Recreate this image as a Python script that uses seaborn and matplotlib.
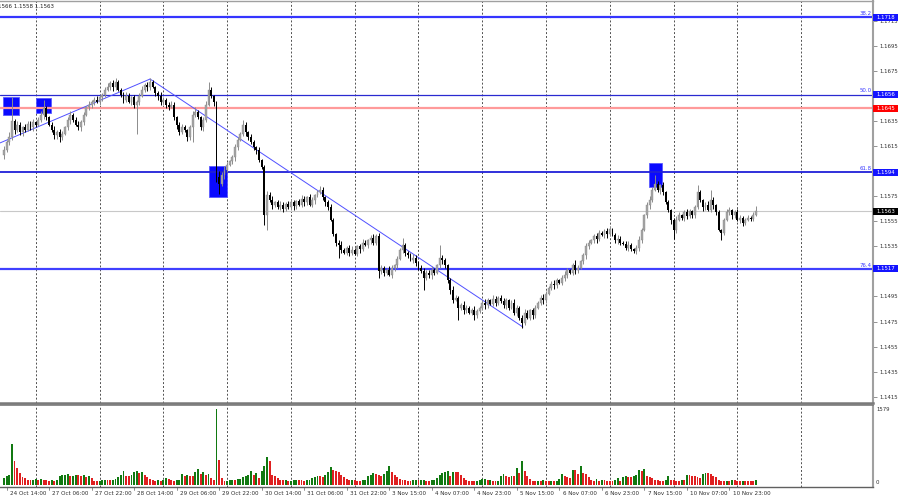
import numpy as np
import pandas as pd
import matplotlib
matplotlib.use("Agg")
import matplotlib.pyplot as plt
import matplotlib.transforms as mtransforms
from matplotlib.patches import Rectangle
import seaborn as sns

# ---------------- data (prices in pips above 1.1000) ----------------
base_price = 1.1
pip = 0.0001
first_open = 608

closes = [
    612, 618, 622, 635, 628, 632, 626, 630, 628, 633, 630, 634, 632, 636, 640, 645, 638, 632, 628, 624,
    626, 622, 625, 630, 636, 640, 636, 632, 630, 634, 640, 646, 648, 650, 652, 650, 654, 656, 660, 662,
    665, 662, 666, 660, 656, 652, 655, 650, 654, 648, 650, 655, 660, 664, 662, 666, 662, 657, 655, 650,
    652, 648, 646, 648, 638, 632, 626, 630, 628, 622, 630, 640, 642, 638, 630, 636, 648, 660, 655, 650,
    590, 585, 592, 596, 600, 603, 606, 614, 620, 625, 632, 626, 622, 618, 614, 612, 604, 598, 560, 576,
    572, 568, 570, 566, 568, 565, 569, 566, 570, 567, 571, 568, 573, 570, 574, 568, 572, 576, 578, 580,
    574, 570, 566, 556, 545, 538, 536, 532, 530, 534, 530, 532, 529, 535, 533, 538, 536, 540, 542, 538,
    543, 515, 518, 514, 516, 512, 518, 520, 525, 532, 536, 530, 528, 524, 526, 522, 518, 515, 510, 514,
    512, 516, 514, 520, 526, 524, 520, 508, 500, 492, 494, 486, 488, 484, 486, 482, 484, 480, 483, 486,
    490, 488, 492, 489, 493, 490, 494, 491, 488, 492, 486, 490, 482, 486, 478, 474, 482, 478, 484, 480,
    486, 490, 494, 492, 497, 502, 505, 504, 508, 506, 510, 512, 516, 514, 520, 516, 518, 523, 528, 535,
    538, 540, 543, 541, 546, 544, 547, 545, 549, 544, 540, 541, 538, 537, 534, 536, 533, 531, 534, 540,
    548, 560, 568, 572, 580, 585, 580, 584, 578, 570, 564, 556, 548, 556, 560, 558, 562, 559, 563, 560,
    566, 578, 572, 566, 568, 564, 572, 568, 562, 548, 546, 556, 562, 564, 560, 562, 556, 558, 554, 556,
    558, 557, 560, 563,
]

wick_up = [
    3, 2, 4, 19, 2, 3, 2, 1, 3, 2, 2, 3, 1, 2, 3, 7, 2, 1, 2, 3,
    2, 3, 2, 1, 2, 3, 1, 2, 3, 2, 2, 1, 3, 2, 2, 3, 2, 1, 2, 3,
    2, 3, 3, 2, 1, 2, 3, 2, 1, 2, 2, 2, 3, 1, 2, 3, 2, 1, 2, 3,
    2, 1, 2, 3, 2, 1, 2, 3, 2, 1, 2, 3, 4, 2, 1, 2, 3, 6, 2, 1,
    1, 5, 2, 3, 2, 1, 2, 3, 2, 1, 4, 2, 1, 3, 2, 1, 2, 1, 2, 3,
    2, 3, 1, 2, 3, 2, 1, 2, 3, 2, 1, 2, 3, 2, 1, 3, 2, 1, 2, 3,
    2, 1, 2, 3, 2, 1, 2, 3, 2, 1, 2, 3, 2, 1, 2, 3, 2, 1, 2, 3,
    2, 3, 2, 1, 2, 3, 2, 1, 2, 2, 6, 2, 1, 2, 3, 2, 1, 2, 3, 2,
    2, 3, 2, 1, 10, 2, 2, 1, 2, 3, 2, 1, 2, 3, 2, 1, 2, 3, 2, 1,
    2, 3, 2, 1, 3, 2, 1, 2, 3, 2, 1, 2, 3, 2, 1, 2, 3, 2, 1, 2,
    2, 1, 2, 3, 2, 1, 2, 3, 2, 1, 2, 3, 2, 1, 2, 4, 2, 1, 2, 3,
    2, 1, 2, 3, 2, 1, 2, 3, 2, 1, 2, 3, 2, 1, 2, 3, 2, 1, 2, 3,
    2, 1, 2, 3, 2, 7, 2, 1, 2, 1, 2, 1, 2, 3, 2, 1, 2, 3, 2, 1,
    2, 6, 2, 1, 2, 3, 8, 2, 1, 2, 1, 2, 3, 2, 1, 2, 3, 2, 1, 2,
    2, 1, 2, 4,
]

wick_dn = [
    3, 2, 2, 2, 3, 2, 2, 3, 2, 1, 2, 3, 2, 1, 2, 3, 2, 1, 2, 3,
    3, 4, 2, 1, 2, 3, 2, 1, 2, 3, 2, 1, 2, 3, 2, 1, 2, 3, 2, 1,
    2, 3, 2, 1, 2, 3, 2, 1, 2, 3, 23, 2, 1, 2, 3, 2, 1, 2, 3, 2,
    2, 3, 2, 1, 2, 3, 2, 1, 2, 3, 2, 12, 2, 1, 2, 3, 2, 1, 2, 3,
    4, 8, 2, 3, 2, 1, 2, 3, 2, 1, 2, 3, 2, 1, 2, 3, 2, 1, 8, 12,
    2, 3, 2, 1, 2, 3, 2, 1, 2, 3, 2, 1, 2, 3, 2, 1, 2, 3, 2, 1,
    2, 3, 2, 1, 2, 3, 10, 2, 1, 2, 3, 2, 1, 2, 3, 2, 1, 2, 3, 2,
    2, 5, 2, 3, 2, 1, 2, 3, 2, 1, 2, 3, 2, 1, 2, 3, 2, 1, 10, 2,
    2, 3, 2, 1, 2, 3, 2, 2, 3, 2, 1, 10, 2, 3, 2, 1, 2, 4, 2, 1,
    2, 3, 2, 1, 2, 3, 2, 1, 2, 3, 2, 1, 2, 3, 2, 4, 2, 1, 2, 3,
    2, 1, 2, 3, 2, 1, 2, 3, 2, 1, 2, 3, 2, 1, 2, 3, 2, 1, 2, 3,
    2, 1, 2, 3, 2, 1, 2, 3, 2, 1, 2, 3, 2, 1, 2, 3, 2, 1, 2, 3,
    2, 1, 2, 3, 2, 1, 2, 3, 2, 1, 2, 3, 7, 2, 1, 2, 3, 2, 1, 2,
    2, 1, 2, 3, 2, 1, 2, 3, 2, 1, 6, 2, 1, 2, 3, 2, 1, 2, 3, 2,
    1, 2, 2, 1,
]

volumes = [
    140, 175, 210, 840, 500, 350, 245, 160, 140, 85, 85, 105, 120,
    100, 110, 95, 85, 80, 85, 80, 100, 175, 190, 210, 215, 170, 185, 210, 205, 180, 200, 160, 175, 140, 80,
    75, 80, 90, 100, 100, 90, 100, 120, 160, 190, 280, 180, 180, 190, 260,
    290, 240, 260, 200, 160, 120, 90, 80, 100, 70, 90,
    140, 110, 90, 80, 85, 90, 230, 170, 200, 180, 180, 260, 330, 220, 260, 200, 220, 140, 100, 1579,
    525, 140, 70, 75, 95, 100, 90, 110, 125, 165, 170, 210, 290, 210, 245, 140, 280, 385, 580, 490,
    210, 175, 140, 100, 85, 90, 75,
    80, 85, 90, 90, 85, 80, 85, 90, 130, 150, 175, 175, 160, 200, 260, 370, 300, 280, 260, 200, 150, 110, 90,
    100, 85, 80, 75, 85, 100, 170, 200, 250, 215, 190, 185, 230, 280, 385, 260, 200, 150, 120, 100, 85, 80,
    80, 85, 90, 85, 90, 100, 80, 75, 85, 90, 140, 200, 250, 265, 280,
    175, 259, 259, 259, 210, 140, 105, 84, 84, 70, 84, 105, 119, 126, 91, 105, 70, 70, 84, 189,
    231, 175, 161, 189, 175, 350, 245, 490, 280, 175, 119, 84, 70, 84, 84, 91, 84, 70, 84, 77,
    84, 119, 231, 175, 161, 140, 301, 301, 231, 385, 245, 231, 161, 105, 84, 119, 84, 91, 91, 84,
    84, 70, 105, 140, 70, 161, 189, 161, 161, 175, 210, 315, 280, 329, 189, 161, 140, 105, 91, 70,
    70, 105, 175, 91, 91, 84, 84, 91, 91, 210, 210, 189, 175, 161, 140, 231, 245, 245, 231, 189,
    161, 105, 84, 70, 84, 70, 105, 91, 70, 70, 84, 84, 84, 84, 84, 91,
]

x_labels = ["24 Oct 14:00", "27 Oct 06:00", "27 Oct 22:00", "28 Oct 14:00", "29 Oct 06:00",
            "29 Oct 22:00", "30 Oct 14:00", "31 Oct 06:00", "31 Oct 22:00", "3 Nov 15:00",
            "4 Nov 07:00", "4 Nov 23:00", "5 Nov 15:00", "6 Nov 07:00", "6 Nov 23:00",
            "7 Nov 15:00", "10 Nov 07:00", "10 Nov 23:00"]

y_tick_values = [1.1415, 1.1435, 1.1455, 1.1475, 1.1495, 1.1535, 1.1555, 1.1575,
                 1.1615, 1.1635, 1.1675, 1.1695, 1.1715]

fib_levels = [1.1718, 1.1656, 1.1594, 1.1517]
fib_names = ["38.2", "50.0", "61.8", "76.4"]
red_level = 1.1645
last_price = 1.1563
header_text = "1566 1.1558 1.1563"
vol_max = 1579

trend_up = ([-1.47, 55.0], [1.16175, 1.16685])
trend_dn = ([55.0, 195.3], [1.16685, 1.14706])
# (bar start, bar end, price low, price high)
zones = [(-0.3, 5.7, 1.16398, 1.16542),
         (12.1, 17.7, 1.16414, 1.16534),
         (77.2, 84.0, 1.15740, 1.15990),
         (242.7, 247.6, 1.15820, 1.16015)]

# ---------------- build OHLC ----------------
n = min(len(closes), len(wick_up), len(wick_dn), len(volumes))
c = np.array(closes[:n], dtype=float)
o = np.r_[first_open, c[:-1]]
h = np.maximum(o, c) + np.array(wick_up[:n])
l = np.minimum(o, c) - np.array(wick_dn[:n])
c, o, h, l = [base_price + a * pip for a in (c, o, h, l)]
idx = np.arange(n)
vol = np.array(volumes[:n], dtype=float)
vol_dir = np.where(np.r_[True, vol[1:] > vol[:-1]], "up", "dn")

# ---------------- figure ----------------
sns.set_style("white")
plt.rcParams["font.family"] = ["DejaVu Sans"]
fig = plt.figure(figsize=(9, 5), dpi=100)
W, H = 900.0, 500.0
ax = fig.add_axes([0, 97 / H, 873 / W, 402 / H])
axv = fig.add_axes([0, 13 / H, 873 / W, 82 / H])

ymin, ymax = 1.140997, 1.173077
px_price = (ymax - ymin) / 402.0
xmin, xmax = -1.468, 327.04

# zones (under candles)
for x0, x1, p0, p1 in zones:
    ax.add_patch(Rectangle((x0, p0), x1 - x0, p1 - p0, facecolor="#0a0aff",
                           edgecolor="#5a5aff", linewidth=0.6, zorder=1))

# vertical dotted grid
grid_pos = np.arange(12, 301, 24)
for a in (ax, axv):
    for g in grid_pos:
        a.axvline(g, color="#505050", linestyle=(0, (2.0, 2.0)), linewidth=0.7, zorder=0.5)

# horizontal levels
ax.axhline(fib_levels[0], color="#3535ff", linewidth=1.6, zorder=1.5)
ax.axhline(fib_levels[1], color="#2a2ad0", linewidth=0.9, zorder=1.5)
ax.axhline(fib_levels[2], color="#2020d8", linewidth=1.3, zorder=1.5)
ax.axhline(fib_levels[3], color="#4040ff", linewidth=1.6, zorder=1.5)
ax.axhline(red_level, color="#ff9a9a", linewidth=1.6, zorder=1.5)
ax.axhline(last_price, color="#c8c8c8", linewidth=0.8, zorder=1.5)

# trend lines
tl = pd.DataFrame({"x": trend_up[0] + trend_dn[0], "y": trend_up[1] + trend_dn[1],
                   "seg": ["a", "a", "b", "b"]})
sns.lineplot(data=tl, x="x", y="y", units="seg", estimator=None, color="#5050ff",
             linewidth=0.7, ax=ax, zorder=2, sort=False)

# candles
up = c >= o
body_lo = np.minimum(o, c)
body_h = np.maximum(np.abs(c - o), 0.00004)
ax.vlines(idx[up], l[up], h[up], color="#8c8c8c", linewidth=0.7, zorder=3)
ax.vlines(idx[~up], l[~up], h[~up], color="#000000", linewidth=0.7, zorder=3)
ax.bar(idx[up], body_h[up], bottom=body_lo[up], width=0.72, color="#a4a4a4",
       edgecolor="#8c8c8c", linewidth=0.3, zorder=3.5)
ax.bar(idx[~up], body_h[~up], bottom=body_lo[~up], width=0.72, color="#000000",
       linewidth=0, zorder=3.5)

ax.set_xlim(xmin, xmax)
ax.set_ylim(ymin, ymax)
ax.set_xlabel("")
ax.set_ylabel("")
ax.set_xticks([])
ax.yaxis.tick_right()
ax.set_yticks(y_tick_values)
ax.set_yticklabels([f"{v:.4f}" for v in y_tick_values])
ax.tick_params(axis="y", length=3, width=0.6, color="#808080", labelsize=3.9,
               pad=1.5, labelcolor="#303030")
ax.spines["left"].set_visible(False)
ax.spines["top"].set_color("#a0a0a0"); ax.spines["top"].set_linewidth(1.0)
ax.spines["right"].set_color("#a0a0a0"); ax.spines["right"].set_linewidth(1.5)
ax.spines["bottom"].set_color("#7a7a7a"); ax.spines["bottom"].set_linewidth(1.8)

# level labels & price boxes
tr = mtransforms.blended_transform_factory(ax.transAxes, ax.transData)
for lv, nm in zip(fib_levels, fib_names):
    ax.text(1.0 - 1.5 / 873, lv + 1.2 * px_price, nm, transform=tr, ha="right", va="bottom",
            fontsize=3.9, color="#3a3aff", zorder=6)

def price_box(yv, txt, fc):
    bh = 7 * px_price
    ax.add_patch(Rectangle((1.0, yv - bh / 2), 25 / 873, bh, transform=tr, facecolor=fc,
                           edgecolor="none", clip_on=False, zorder=10))
    ax.text(1.0 + 3 / 873, yv, txt, transform=tr, ha="left", va="center", fontsize=3.9,
            color="white", clip_on=False, zorder=11)

for lv in fib_levels:
    price_box(lv, f"{lv:.4f}", "#1414ff")
price_box(red_level, f"{red_level:.4f}", "#ff0000")
price_box(last_price, f"{last_price:.4f}", "#000000")

# header text
fig.text(-1.5 / W, 1 - 6 / H, header_text, ha="left", va="center", fontsize=4.0, color="#202020")

# volumes via seaborn
vdf = pd.DataFrame({"i": idx, "v": vol, "d": vol_dir})
sns.barplot(data=vdf, x="i", y="v", hue="d", palette={"up": "#008a00", "dn": "#ff0000"},
            native_scale=True, dodge=False, width=0.72, legend=False, errorbar=None,
            linewidth=0, ax=axv, zorder=3)
axv.set_xlim(xmin, xmax)
axv.set_ylim(-52, 1669)
axv.set_xlabel("")
axv.set_ylabel("")
axv.set_xticks([])
axv.set_yticks([])
axv.spines["left"].set_visible(False)
axv.spines["top"].set_color("#7a7a7a"); axv.spines["top"].set_linewidth(1.2)
axv.spines["right"].set_color("#a0a0a0"); axv.spines["right"].set_linewidth(1.5)
axv.spines["bottom"].set_color("#606060"); axv.spines["bottom"].set_linewidth(1.0)

trv = mtransforms.blended_transform_factory(axv.transAxes, axv.transData)
axv.text(1.0 + 3 / 873, vol_max, str(vol_max), transform=trv, ha="left", va="center",
         fontsize=3.9, color="#303030", clip_on=False)
axv.text(1.0 + 3 / 873, 40, "0", transform=trv, ha="left", va="center",
         fontsize=3.9, color="#303030", clip_on=False)

# x labels
trx = mtransforms.blended_transform_factory(axv.transData, axv.transAxes)
for k, lab in enumerate(x_labels):
    pos = 1 + 16 * k
    axv.plot([pos, pos], [0, -0.04], transform=trx, color="#606060", linewidth=0.5,
             clip_on=False)
    axv.text(pos + 1.2, -0.05, lab, transform=trx, ha="left", va="top", fontsize=4.1,
             color="#303030", clip_on=False)

fig.savefig("out.png", dpi=100, facecolor="white")
